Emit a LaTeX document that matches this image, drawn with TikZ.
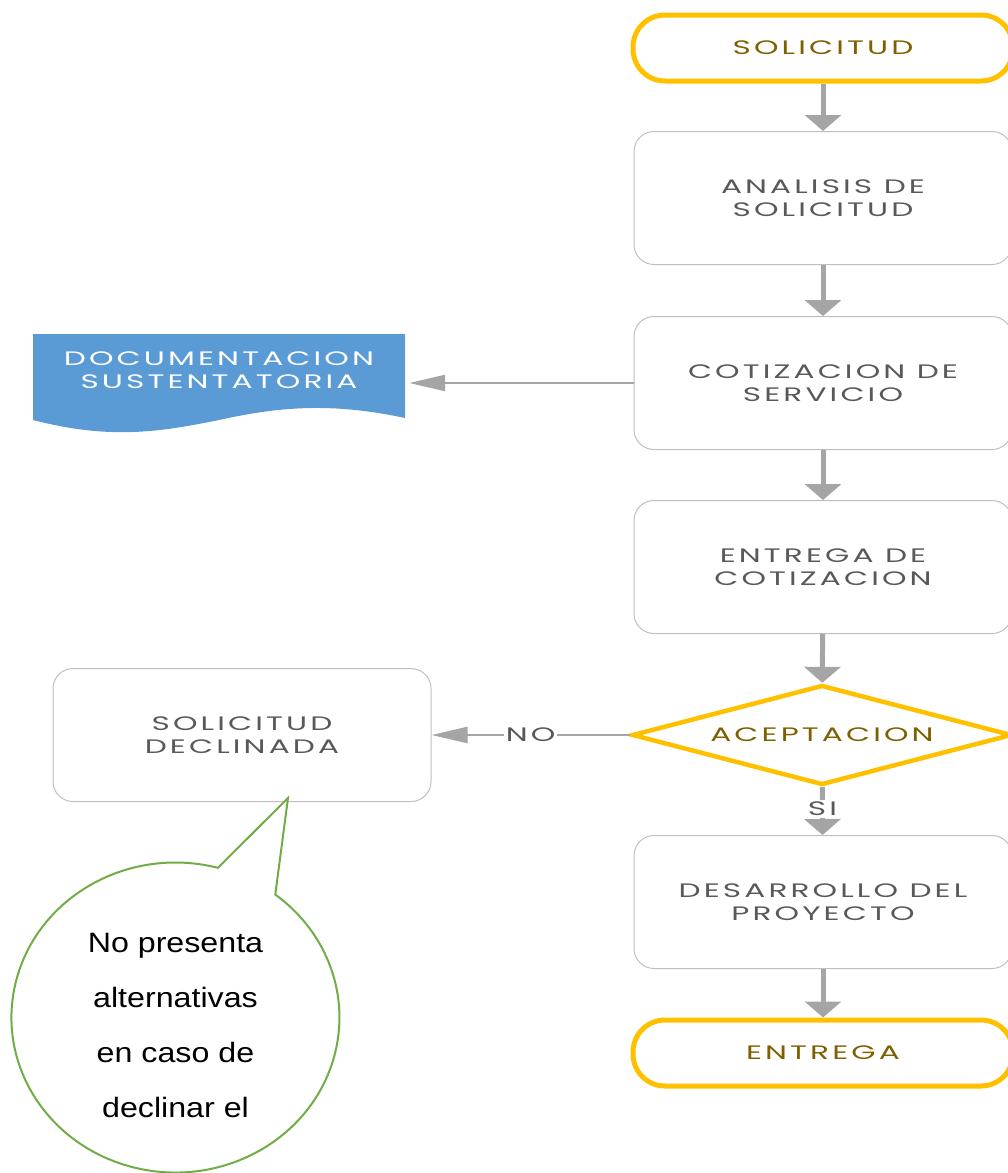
\documentclass[tikz,border=0pt]{standalone}
\usepackage{fontspec}
\usepackage{tikz}
\newfontfamily\boxfont[FakeStretch=1.6,LetterSpace=16]{Poppins}
\newfontfamily\notefont[FakeStretch=1.15]{Liberation Sans}
\usetikzlibrary{arrows.meta,shapes.geometric,positioning}
\definecolor{flowgray}{HTML}{A5A5A5}
\definecolor{edgegray}{HTML}{BFBFBF}
\definecolor{txtgray}{HTML}{595959}
\definecolor{termgold}{HTML}{FFC000}
\definecolor{termtxt}{HTML}{7F6000}
\definecolor{docblue}{HTML}{5B9BD5}
\definecolor{notegreen}{HTML}{70AD47}

\begin{document}
\begin{tikzpicture}[x=1pt,y=1pt
  ,every node/.style={font=\boxfont\fontsize{19.5}{23}\selectfont}
  ,proc/.style={draw=edgegray,line width=1pt,rounded corners=20pt
    ,minimum width=378pt,minimum height=133pt,text=txtgray,align=center}
  ,term/.style={draw=termgold,line width=5pt,rounded corners=32pt
    ,minimum width=380pt,minimum height=66pt,text=termtxt}
  ,decision/.style={diamond,aspect=3.8,draw=termgold,line width=4.5pt
    ,inner sep=0pt,minimum width=380pt,minimum height=100pt,text=termtxt}
  ,down/.style={draw=flowgray,line width=5pt
    ,-{Triangle[length=16pt,width=36pt]}}
  ,side/.style={draw=flowgray,line width=2.5pt
    ,-{Triangle[length=36pt,width=16pt]}}
  ,tag/.style={fill=white,text=txtgray,inner sep=2pt}]
  \useasboundingbox (0,0) rectangle (1007,-1173);

  % main column
  \node[term] (sol)  at (823,-48)  {SOLICITUD};
  \node[proc] (ana)  at (823,-198) {ANALISIS DE\\SOLICITUD};
  \node[proc] (cot)  at (823,-383) {COTIZACION DE\\SERVICIO};
  \node[proc] (ent)  at (823,-567) {ENTREGA DE\\COTIZACION};
  \node[decision] (acep) at (822,-735) {ACEPTACION};
  \node[proc] (des)  at (823,-902) {DESARROLLO DEL\\PROYECTO};
  \node[term] (fin)  at (823,-1053) {ENTREGA};

  % left side
  \node[proc] (decl) at (242,-735) {SOLICITUD\\DECLINADA};
  \fill[docblue] (33,-334) -- (405,-334) -- (405,-418)
    .. controls (330,-402) and (278,-407) .. (219,-420)
    .. controls (160,-432) and (110,-440) .. (33,-420) -- cycle;
  \node[text=white,align=center,inner sep=0pt,minimum width=372pt]
    (doc) at (219,-370) {DOCUMENTACION\\SUSTENTATORIA};

  \path
  (sol)  edge[down] (ana)
  (ana)  edge[down] (cot)
  (cot)  edge[down] (ent)
  (ent)  edge[down] (acep)
  (des)  edge[down] (fin)
  (acep) edge[down] node[tag,pos=0.45] {SI} (des)
  (acep.west) edge[side] node[tag,pos=0.5] {NO} (decl)
  (cot.west) edge[side,shorten >=4pt] (cot.west -| doc.east)
  ;

  % speech bubble
  \coordinate (tip) at (288,-798);
  \draw[notegreen,line width=2pt,fill=white]
    (217.9,-867.8) arc[start angle=75,end angle=412.5,
      x radius=164,y radius=155] -- (tip) -- cycle;
  \node[font=\notefont\fontsize{28}{55}\selectfont,align=center]
    (note) at (175.5,-1025) {No presenta\\alternativas\\en caso de\\declinar el};
\end{tikzpicture}
\end{document}
